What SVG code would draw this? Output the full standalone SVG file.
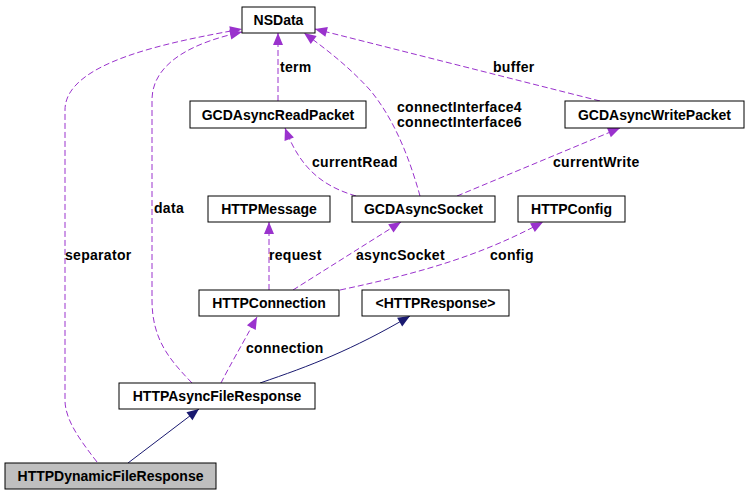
<svg xmlns="http://www.w3.org/2000/svg" width="749" height="496" viewBox="0 0 749 496">
<style>
.node rect{fill:#ffffff;stroke:#000000;stroke-width:1}
.node text,.lbl{font-family:"Liberation Sans",Arial,sans-serif;font-weight:bold;font-size:14px;fill:#000000}
.lbl{letter-spacing:0.3px}
.node text{text-anchor:middle}
.dep{fill:none;stroke:#9a32cd;stroke-width:1;stroke-dasharray:6,3}
.inh{fill:none;stroke:#191970;stroke-width:1}
</style>
<defs>
<marker id="ap" markerUnits="userSpaceOnUse" markerWidth="12" markerHeight="10" refX="12" refY="5" orient="auto" overflow="visible">
<path d="M0,0 L12,5 L0,10 z" fill="#9a32cd" stroke="none"/>
</marker>
<marker id="an" markerUnits="userSpaceOnUse" markerWidth="12" markerHeight="10" refX="12" refY="5" orient="auto" overflow="visible">
<path d="M0,0 L12,5 L0,10 z" fill="#191970" stroke="none"/>
</marker>
</defs>
<rect width="749" height="496" fill="#ffffff"/>
<g id="connectors">
<path class="dep" d="M97,462 C80,440 65,420 65,400 L65,110 C65,62 170,42 242,29" marker-end="url(#ap)"/>
<path class="dep" d="M192,383 C170,360 152,340 152,300 L152,100 C152,62 195,42 242,32" marker-end="url(#ap)"/>
<path class="dep" d="M278,101 L278,33" marker-end="url(#ap)"/>
<path class="dep" d="M420,196 C410,160 395,120 370,90 C350,68 330,52 304,33" marker-end="url(#ap)"/>
<path class="dep" d="M600,101 L315,29" marker-end="url(#ap)"/>
<path class="dep" d="M356,196 C322,186 300,168 285,128" marker-end="url(#ap)"/>
<path class="dep" d="M457,196 L620,128" marker-end="url(#ap)"/>
<path class="dep" d="M269,290 L269,222" marker-end="url(#ap)"/>
<path class="dep" d="M293,290 L401,222" marker-end="url(#ap)"/>
<path class="dep" d="M340,290 C420,273 480,256 543,222" marker-end="url(#ap)"/>
<path class="dep" d="M221,383 C230,365 242,345 257,317" marker-end="url(#ap)"/>
<path class="inh" d="M260,383 C310,366 352,350 410,316" marker-end="url(#an)"/>
<path class="inh" d="M128,463 L199,409" marker-end="url(#an)"/>
</g>
<g id="labels">
<text class="lbl" x="65" y="260">separator</text>
<text class="lbl" x="154" y="213">data</text>
<text class="lbl" x="280" y="72">term</text>
<text class="lbl" x="397" y="112">connectInterface4</text>
<text class="lbl" x="397" y="127">connectInterface6</text>
<text class="lbl" x="493" y="72">buffer</text>
<text class="lbl" x="312" y="167">currentRead</text>
<text class="lbl" x="553" y="167">currentWrite</text>
<text class="lbl" x="269" y="260">request</text>
<text class="lbl" x="356" y="260">asyncSocket</text>
<text class="lbl" x="490" y="260">config</text>
<text class="lbl" x="246" y="353">connection</text>
</g>
<g id="NSData" class="node"><rect x="242" y="7" width="73" height="26"/><text x="278.5" y="25">NSData</text></g>
<g id="GCDAsyncReadPacket" class="node"><rect x="190" y="101" width="176" height="27"/><text x="278" y="119.5">GCDAsyncReadPacket</text></g>
<g id="GCDAsyncWritePacket" class="node"><rect x="565" y="101" width="179" height="27"/><text x="654.5" y="119.5">GCDAsyncWritePacket</text></g>
<g id="HTTPMessage" class="node"><rect x="208" y="196" width="122" height="26"/><text x="269" y="214">HTTPMessage</text></g>
<g id="GCDAsyncSocket" class="node"><rect x="352" y="196" width="143" height="26"/><text x="423.5" y="214">GCDAsyncSocket</text></g>
<g id="HTTPConfig" class="node"><rect x="518" y="196" width="107" height="26"/><text x="571.5" y="214">HTTPConfig</text></g>
<g id="HTTPConnection" class="node"><rect x="199" y="290" width="140" height="26"/><text x="269" y="308">HTTPConnection</text></g>
<g id="HTTPResponse" class="node"><rect x="362" y="290" width="147" height="26"/><text x="435.5" y="308">&lt;HTTPResponse&gt;</text></g>
<g id="HTTPAsyncFileResponse" class="node"><rect x="119" y="383" width="196" height="26"/><text x="217" y="401">HTTPAsyncFileResponse</text></g>
<g id="HTTPDynamicFileResponse" class="node"><rect x="5" y="463" width="211" height="26" style="fill:#bfbfbf"/><text x="110.5" y="481">HTTPDynamicFileResponse</text></g>
</svg>
